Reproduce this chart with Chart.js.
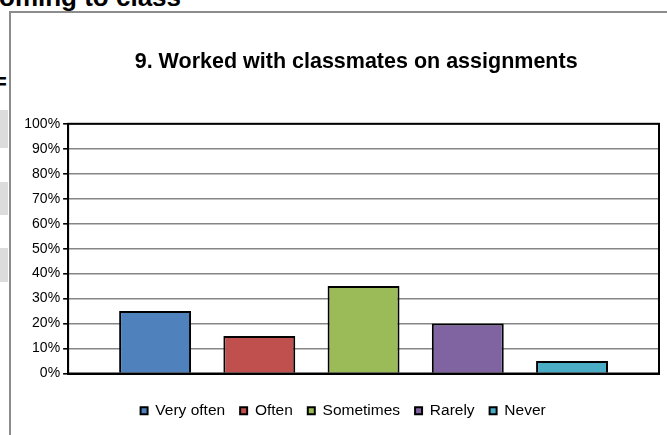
<!DOCTYPE html>
<html>
<head>
<meta charset="utf-8">
<script src="https://cdn.jsdelivr.net/npm/chart.js@4"></script>
<style>
  html, body { margin: 0; padding: 0; background: #fff; }
  body { width: 667px; height: 435px; overflow: hidden; position: relative; font-family: "Liberation Sans", Arial, sans-serif; }
  .doc-head { position: absolute; left: -1px; top: -18px; font: bold 26px "Liberation Sans", Arial, sans-serif; color: #000; white-space: nowrap; }
  .doc-eq { position: absolute; left: -6px; top: 69px; font: bold 22px "Liberation Sans", Arial, sans-serif; color: #000; }
  .cell { position: absolute; left: 0; width: 8px; background: #dcdcdc; }
  .frame { position: absolute; left: 9px; top: 11px; width: 700px; height: 450px; border-left: 2px solid #8c8c8c; border-top: 2px solid #8c8c8c; background: #fff; }
  #wrap { position: absolute; left: 11px; top: 13px; width: 656px; height: 422px; }
</style>
</head>
<body>
<div class="doc-head">oming to class</div>
<div class="doc-eq">=</div>
<div class="cell" style="top:110px;height:38px"></div>
<div class="cell" style="top:182px;height:33px"></div>
<div class="cell" style="top:248px;height:34px"></div>
<div class="frame"></div>
<div id="wrap"><canvas id="c" width="656" height="422"></canvas></div>
<script>
const chartTitle = '9. Worked with classmates on assignments';
const categories = ['Very often', 'Often', 'Sometimes', 'Rarely', 'Never'];
const values = [25, 15, 35, 20, 5];
const colors = ['#4F81BD', '#C0504D', '#9BBB59', '#8064A2', '#4BACC6'];
const yTickValues = [0, 10, 20, 30, 40, 50, 60, 70, 80, 90, 100];
const yTickLabels = ['0%', '10%', '20%', '30%', '40%', '50%', '60%', '70%', '80%', '90%', '100%'];

const FONT = '"Liberation Sans", Arial, sans-serif';

const shiftPlugin = {
  id: 'shiftBoxes',
  afterLayout(chart) {
    if (chart.titleBlock) { chart.titleBlock.left += 16; chart.titleBlock.right += 16; }
    if (chart.legend) { chart.legend.left += 3; chart.legend.right += 3; }
  }
};
const frameBorder = {
  id: 'plotFrame',
  afterDatasetsDraw(chart) {
    const a = chart.chartArea, ctx = chart.ctx;
    ctx.save();
    ctx.strokeStyle = '#000';
    ctx.lineWidth = 2;
    ctx.strokeRect(a.left, a.top, a.right - a.left, a.bottom - a.top);
    ctx.restore();
  }
};

new Chart(document.getElementById('c'), {
  type: 'bar',
  data: {
    labels: [''],
    datasets: categories.map((c, i) => ({
      label: c,
      data: [values[i]],
      backgroundColor: colors[i],
      borderColor: '#000',
      borderWidth: 2,
      categoryPercentage: 0.882,
      barPercentage: 0.69
    }))
  },
  options: {
    responsive: false,
    animation: false,
    events: [],
    layout: { padding: { left: 10.3, right: 8, top: 0, bottom: 6.5 } },
    plugins: {
      tooltip: { enabled: false },
      title: {
        display: true,
        text: chartTitle,
        color: '#000',
        font: { family: FONT, size: 21.5, weight: 'bold' },
        padding: { top: 36, bottom: 49 }
      },
      legend: {
        position: 'bottom',
        labels: {
          color: '#000',
          font: { family: FONT, size: 15.5 },
          boxWidth: 7,
          boxHeight: 7,
          padding: 15
        }
      }
    },
    scales: {
      x: {
        grid: { display: false },
        ticks: { display: false },
        border: { display: true, color: '#000', width: 2 },
        afterFit(s) { s.height = 14.5; }
      },
      y: {
        min: 0,
        max: 100,
        afterBuildTicks(s) { s.ticks = yTickValues.map(v => ({ value: v })); },
        ticks: {
          color: '#000',
          font: { family: FONT, size: 14 },
          padding: 3,
          callback: (v) => yTickLabels[yTickValues.indexOf(v)]
        },
        grid: { color: '#868686', lineWidth: 1.6, tickLength: 5, tickColor: '#000' },
        border: { display: true, color: '#000', width: 2 }
      }
    }
  },
  plugins: [shiftPlugin, frameBorder]
});
</script>
</body>
</html>
